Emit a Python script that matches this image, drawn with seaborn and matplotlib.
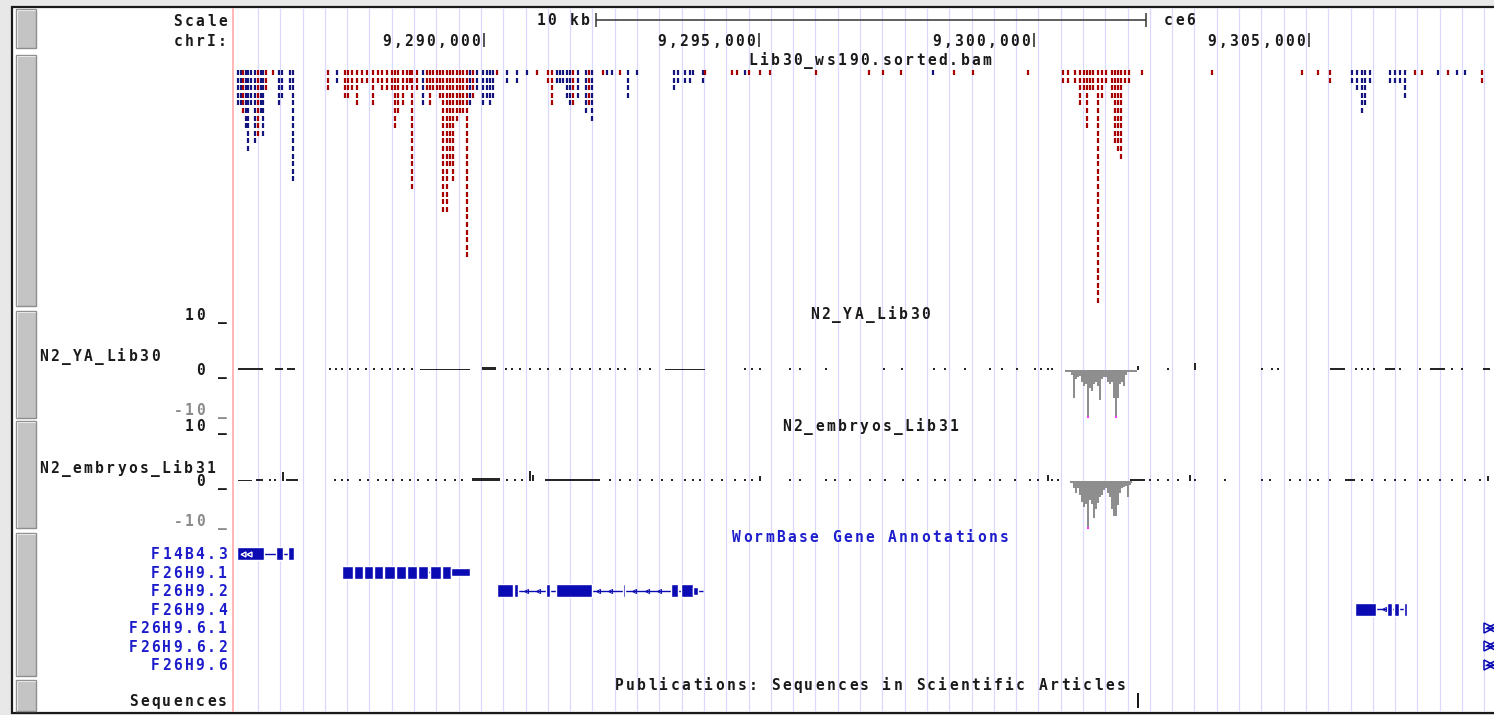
import numpy as np
import pandas as pd
import matplotlib
matplotlib.use("Agg")
import matplotlib.pyplot as plt
from matplotlib.patches import Rectangle
import seaborn as sns

sns.set_theme(style="white")
plt.rcParams['font.family'] = ['DejaVu Sans Mono', 'DejaVu Sans']

# ===============================
# 1. DATA (chrI window, ce6)
# ===============================
view_start = 9285418
view_end = 9308364

pos_ticks = [9290000, 9295000, 9300000, 9305000]
pos_labels = ["9,290,000", "9,295,000", "9,300,000", "9,305,000"]
scalebar_start = 9292036
scalebar_len = 10000

# Lib30_ws190.sorted.bam : read piles (position, stacked reads, strand)
read_pos = [
    9285527, 9285582, 9285618, 9285673, 9285709, 9285764, 9285836, 9285891,
    9285945, 9285982, 9286036, 9286164, 9286273, 9286327, 9286473, 9286527,
    9287164, 9287327, 9287473, 9287527, 9287600, 9287691, 9287782, 9287873,
    9287982, 9288073, 9288145, 9288236, 9288327, 9288382, 9288436, 9288527,
    9288600, 9288655, 9288691, 9288782, 9288891, 9288964, 9289018, 9289073,
    9289145, 9289200, 9289255, 9289327, 9289382, 9289436, 9289509, 9289564,
    9289618, 9289691, 9289745, 9289800, 9289873, 9289982, 9290055, 9290109,
    9290164, 9290236, 9290418, 9290600, 9290782, 9290964, 9291164, 9291236,
    9291327, 9291382, 9291436, 9291509, 9291564, 9291618, 9291709, 9291855,
    9291909, 9291964, 9292164, 9292236, 9292327, 9292473, 9292618, 9292782,
    9293455, 9293527, 9293655, 9293745, 9293800, 9293982, 9294018, 9294509,
    9294600, 9294745, 9294818, 9295018, 9295200, 9296036, 9297000, 9297255,
    9297582, 9298164, 9298545, 9298891, 9299891, 9300527, 9300618, 9300745,
    9300836, 9300909, 9300964, 9301018, 9301073, 9301164, 9301236, 9301309,
    9301418, 9301473, 9301527, 9301582, 9301655, 9301727, 9301964, 9303236,
    9304873, 9305164, 9305382, 9305782, 9305873, 9305964, 9306018, 9306109,
    9306473, 9306564, 9306655, 9306745, 9306927, 9307055, 9307345, 9307527,
    9307691, 9307836, 9308145,
]
read_depth = [
    5, 5, 6, 8, 11, 5, 10, 9,
    6, 9, 3, 1, 5, 4, 3, 15,
    3, 2, 4, 4, 3, 5, 2, 2,
    5, 2, 3, 3, 3, 8, 6, 5,
    3, 2, 16, 3, 5, 3, 5, 3,
    3, 4, 19, 19, 13, 15, 7, 6,
    6, 25, 5, 4, 3, 5, 4, 5,
    4, 1, 2, 2, 1, 1, 2, 5,
    2, 2, 2, 4, 5, 5, 4, 6,
    5, 7, 1, 1, 1, 1, 4, 1,
    3, 2, 2, 2, 1, 2, 1, 1,
    1, 1, 1, 1, 1, 1, 1, 1,
    1, 1, 1, 1, 1, 2, 2, 2,
    5, 3, 8, 3, 3, 31, 4, 2,
    4, 10, 11, 12, 2, 2, 1, 1,
    1, 1, 2, 2, 3, 6, 5, 2,
    2, 2, 2, 4, 1, 1, 1, 1,
    1, 1, 2,
]
read_strand = list(
    "--+----+" "--++----" "+-++++++" "++++++++"
    "++++-+++" "++++++++" "++-+----" "-+---+++"
    "-----+--" "+-+--+--" "------++" "+-++++++"
    "+-++++++" "++++++++" "++++++++" "+++-----"
    "----++-+" "--+"
)

# N2_YA_Lib30 coverage
dot_value = 0.4
ya_dot_pos = [
    9287200, 9287309, 9287418, 9287564, 9287709, 9287855, 9288000, 9288145,
    9288291, 9288436, 9288545, 9288691, 9290400, 9290509, 9290655, 9290836,
    9291018, 9291164, 9291382, 9291600, 9291745, 9291927, 9292109, 9292291,
    9292436, 9292564, 9292836, 9293018, 9294745, 9294873, 9295018, 9295564,
    9295745, 9296218, 9297273, 9297600, 9298182, 9298382, 9298745, 9299200,
    9299418, 9299691, 9300018, 9300127, 9300255, 9300327, 9302436, 9304145,
    9304327, 9304436, 9305855, 9305964, 9306073, 9306182, 9306655, 9307018,
    9307600, 9307782,
]
ya_spike_pos = [9301891, 9302927]
ya_spike_val = [0.8, 1.6]
ya_seg_start = [9285527, 9286200, 9286418, 9288836, 9289964, 9293291, 9305382, 9306382, 9307200, 9308164]
ya_seg_end = [9285982, 9286345, 9286564, 9289745, 9290218, 9294018, 9305655, 9306564, 9307473, 9308291]
ya_seg_val = [0.5, 0.5, 0.5, 0.3, 0.55, 0.3, 0.4, 0.4, 0.35, 0.4]
ya_neg_span = (9300564, 9301873)
ya_neg_pos = [
    9300691, 9300727, 9300764, 9300800, 9300836, 9300873, 9300909, 9300945,
    9300982, 9301018, 9301055, 9301091, 9301127, 9301164, 9301200, 9301236,
    9301273, 9301309, 9301345, 9301382, 9301418, 9301455, 9301491, 9301527,
    9301564, 9301600, 9301636, 9301673,
]
ya_neg_val = [
    -1, -6, -2, -1.5, -1.2, -2.5, -3.5, -3,
    -10, -4, -4.5, -3, -2.5, -3.5, -6.6, -2,
    -1.5, -1.5, -2.5, -3, -2.5, -6, -10, -6,
    -3, -2.5, -3.4, -1,
]

# N2_embryos_Lib31 coverage
emb_dot_pos = [
    9286109, 9286200, 9287291, 9287418, 9287527, 9287745, 9287891, 9288073,
    9288218, 9288345, 9288509, 9288655, 9288800, 9288982, 9289127, 9289291,
    9289473, 9289600, 9290418, 9290564, 9290691, 9292291, 9292473, 9292655,
    9292836, 9293055, 9293236, 9293418, 9293655, 9293800, 9293927, 9294145,
    9294327, 9294564, 9294745, 9294873, 9295564, 9295745, 9296218, 9296382,
    9296655, 9297018, 9297291, 9297618, 9297891, 9298200, 9298382, 9298655,
    9298927, 9299200, 9299382, 9299655, 9299927, 9300073, 9300327, 9300436,
    9302109, 9302255, 9302436, 9302618, 9302927, 9303473, 9304145, 9304291,
    9304655, 9304836, 9305018, 9305164, 9305382, 9305964, 9306145, 9306382,
    9306564, 9306745, 9307018, 9307164, 9307382, 9307600, 9307836, 9308109,
]
emb_spike_pos = [9286345, 9290836, 9290891, 9295018, 9300255, 9302836, 9308255]
emb_spike_val = [2.0, 2.2, 1.2, 1.0, 1.2, 1.2, 1.0]
emb_seg_start = [9285527, 9285855, 9286400, 9289782, 9291109, 9301745, 9305655]
emb_seg_end = [9285782, 9285982, 9286618, 9290291, 9292109, 9302018, 9305836]
emb_seg_val = [0.3, 0.5, 0.5, 0.55, 0.35, 0.4, 0.4]
emb_neg_span = (9300655, 9301782)
emb_neg_pos = [
    9300727, 9300764, 9300800, 9300836, 9300873, 9300909, 9300945, 9300982,
    9301018, 9301055, 9301091, 9301127, 9301164, 9301200, 9301236, 9301273,
    9301309, 9301345, 9301382, 9301418, 9301455, 9301491, 9301527, 9301564,
    9301600, 9301636, 9301673, 9301709, 9301745,
]
emb_neg_val = [
    -1.5, -2.5, -1.5, -3, -4.5, -5.7, -5, -10,
    -4.2, -5, -8, -6, -4.7, -3.5, -3, -2,
    -1.5, -2.5, -3.5, -6, -7.6, -7.6, -5.2, -2.5,
    -1.5, -1.2, -1, -3.5, -0.8,
]

# WormBase Gene Annotations
gene_names = ["F14B4.3", "F26H9.1", "F26H9.2", "F26H9.4", "F26H9.6.1", "F26H9.6.2", "F26H9.6"]
gene_exons = [
    [(9285509, 9286000), (9286218, 9286345), (9286436, 9286545)],
    [(9287418, 9287610), (9287630, 9287795), (9287815, 9287975), (9287995, 9288160),
     (9288180, 9288375), (9288395, 9288575), (9288595, 9288775), (9288795, 9288990),
     (9289010, 9289210), (9289230, 9289400)],
    [(9290236, 9290520), (9290545, 9290618), (9291127, 9291200), (9291309, 9291964),
     (9292527, 9292564), (9293400, 9293527), (9293582, 9293800)],
    [(9305836, 9306218), (9306418, 9306509), (9306545, 9306636), (9306727, 9306782)],
    [], [], [],
]
gene_utr = [None, (9289400, 9289745), (9293800, 9293891), None, None, None, None]
gene_span = [
    (9285509, 9286545), (9287418, 9289745), (9290236, 9293980), (9305836, 9306782),
    (9308200, 9308600), (9308200, 9308600), (9308200, 9308600),
]
strand_marks = [9285618, 9285727]   # white arrows inside first F14B4.3 exon
pub_hits = [9301891]

# ===============================
# 2. FIGURE / LAYOUT
# ===============================
W, H = 1494, 715
RED = '#a80000'
BLUE = '#14147f'
GENE = '#0b0bb4'
GENE_TXT = '#1d1dcc'
TXT = '#1a1a1a'
GREY_TXT = '#8a8a8a'

fig = plt.figure(figsize=(W / 100, H / 100), dpi=100)
fig.patch.set_facecolor('#e8e8e8')


def px_axes(left, top, right, bottom):
    a = fig.add_axes([left / W, 1 - bottom / H, (right - left) / W, (bottom - top) / H])
    a.axis('off')
    return a


bg = px_axes(0, 0, W, H)
bg.set_xlim(0, W)
bg.set_ylim(H, 0)
bg.add_patch(Rectangle((12, 7), W, 706, facecolor='white', edgecolor='#1a1a1a', lw=1.6))
for top, bottom in [(9, 48), (55, 306), (311, 418), (421, 528), (533, 676), (680, 711)]:
    bg.add_patch(Rectangle((15.5, top), 20, bottom - top, facecolor='#c4c4c4',
                           edgecolor='#8e8e8e', lw=1.0))
    bg.plot([16.5, 16.5, 34.5], [bottom - 1, top + 1, top + 1], color='#e6e6e6', lw=0.8)

ax = px_axes(232, 8, W, 712)

# guidelines
grid_x = np.arange(9285891, view_end, 405.4)
ax.vlines(grid_x, 8, 712, color='#d9d9ff', lw=0.9, zorder=0.5)
ax.vlines([view_start + 15], 8, 712, color='#ffb0b0', lw=1.3, zorder=0.6)

# scale bar + position ticks
ax.hlines(20, scalebar_start, scalebar_start + scalebar_len, color='#333333', lw=1.1)
ax.vlines([scalebar_start, scalebar_start + scalebar_len], 13, 27, color='#333333', lw=1.1)
ax.vlines(pos_ticks, 33, 47, color='#222222', lw=1.1)

# reads
reads = pd.DataFrame({'pos': read_pos, 'depth': read_depth, 'strand': read_strand})
stack = reads.loc[reads.index.repeat(reads['depth'])].copy()
stack['row'] = stack.groupby(level=0).cumcount()
stack['y'] = 72.5 + 7.6 * stack['row']
sns.scatterplot(data=stack, x='pos', y='y', hue='strand', palette={'+': RED, '-': BLUE},
                marker='|', s=13, linewidth=1.6, legend=False, ax=ax, zorder=2)

# genes
for i, name in enumerate(gene_names):
    y = 554 + 18.5 * i
    s, e = gene_span[i]
    ax.hlines(y, s, e, color=GENE, lw=1.0, zorder=2, clip_on=False)
    if gene_exons[i]:
        ax.broken_barh([(a, b - a) for a, b in gene_exons[i]], (y - 6.5, 13),
                       facecolors=GENE, zorder=3)
        # intron arrows
        arrows = np.arange(s + 80, e, 220)
        inside = [any(a - 50 <= p <= b + 50 for a, b in gene_exons[i]) for p in arrows]
        arrows = [p for p, ins in zip(arrows, inside) if not ins]
        ax.plot(arrows, [y] * len(arrows), ls='none', marker='<', ms=3.0,
                mfc='none', mec=GENE, mew=0.7, zorder=3)
    else:
        ax.plot([s + 82], [y], ls='none', marker='>', ms=6.5, mfc='none', mec=GENE,
                mew=1.1, zorder=3, clip_on=False)
        ax.plot([s + 125], [y], ls='none', marker='<', ms=6.5, mfc='none', mec=GENE,
                mew=1.1, zorder=3, clip_on=False)
    if gene_utr[i]:
        a, b = gene_utr[i]
        ax.broken_barh([(a, b - a)], (y - 4, 8), facecolors=GENE, zorder=3)
ax.plot(strand_marks, [554] * len(strand_marks), ls='none', marker='<', ms=3.5,
        mfc='none', mec='white', mew=1.0, zorder=4)

# publications
ax.vlines(pub_hits, 693, 708, color='#111111', lw=1.4)

ax.set_xlim(view_start, view_end)
ax.set_ylim(712, 8)


def coverage_axes(top, bottom, zero):
    c = px_axes(232, top, W, bottom)
    c.set_xlim(view_start, view_end)
    c.set_ylim(-(bottom - zero) / 4.6, (zero - top) / 4.6)
    return c


def draw_coverage(c, dots, sp_pos, sp_val, sg_s, sg_e, sg_v, span, neg_pos, neg_val):
    c.bar(dots, dot_value, width=40, color='#262626', lw=0)
    c.bar(sp_pos, sp_val, width=40, color='#262626', lw=0)
    c.bar(sg_s, sg_v, width=np.array(sg_e) - np.array(sg_s), align='edge', color='#262626', lw=0)
    c.bar(span[0], -0.35, width=span[1] - span[0], align='edge', color='#8e8e8e', lw=0)
    vals = np.maximum(neg_val, -10)
    c.bar(neg_pos, vals, width=34, color='#8e8e8e', lw=0)
    clip = [p for p, v in zip(neg_pos, neg_val) if v <= -10]
    c.bar(clip, -0.45, bottom=-10, width=34, color='#ff33ff', lw=0)
    c.set_xlim(view_start, view_end)


ya = coverage_axes(316, 418, 370)
draw_coverage(ya, ya_dot_pos, ya_spike_pos, ya_spike_val, ya_seg_start, ya_seg_end,
              ya_seg_val, ya_neg_span, ya_neg_pos, ya_neg_val)
emb = coverage_axes(427, 529, 481)
draw_coverage(emb, emb_dot_pos, emb_spike_pos, emb_spike_val, emb_seg_start, emb_seg_end,
              emb_seg_val, emb_neg_span, emb_neg_pos, emb_neg_val)

# ===============================
# 3. TEXT (fixed-pitch like the browser font)
# ===============================
lab = px_axes(0, 0, W, H)
lab.set_xlim(0, W)
lab.set_ylim(H, 0)
ADV = 11.15


def mono(x, y, s, ha='left', color=TXT, size=10.5):
    n = len(s)
    if ha == 'right':
        x0 = x - n * ADV
    elif ha == 'center':
        x0 = x - n * ADV / 2
    else:
        x0 = x
    for k, ch in enumerate(s):
        if ch != ' ':
            lab.text(x0 + (k + 0.5) * ADV, y + 5.2, ch, ha='center', va='baseline',
                     color=color, fontsize=size, fontweight='bold', family='DejaVu Sans Mono')


def px_of(pos):
    return ax.transData.transform((pos, 0))[0]


mono(228, 21, "Scale", 'right')
mono(228, 41, "chrI:", 'right')
mono(px_of(scalebar_start) - 5, 20, "10 kb", 'right')
mono(px_of(scalebar_start + scalebar_len) + 17, 20, "ce6")
for p, t in zip(pos_ticks, pos_labels):
    mono(px_of(p) - 3, 41, t, 'right')

mono(870, 60, "Lib30_ws190.sorted.bam", 'center')
mono(870, 314, "N2_YA_Lib30", 'center')
mono(870, 426, "N2_embryos_Lib31", 'center')
mono(870, 537, "WormBase Gene Annotations", 'center', color=GENE_TXT)
mono(870, 685, "Publications: Sequences in Scientific Articles", 'center')

mono(38, 356, "N2_YA_Lib30")
mono(38, 468, "N2_embryos_Lib31")
for zero in (370, 481):
    mono(228, zero - 55, "10 _", 'right')
    mono(228, zero, "0 _", 'right')
    mono(228, zero + 40, "-10 _", 'right', color=GREY_TXT)
for i, name in enumerate(gene_names):
    mono(228, 554 + 18.5 * i, name, 'right', color=GENE_TXT)
mono(228, 701, "Sequences", 'right')

fig.savefig("out.png", dpi=100, facecolor=fig.get_facecolor())
